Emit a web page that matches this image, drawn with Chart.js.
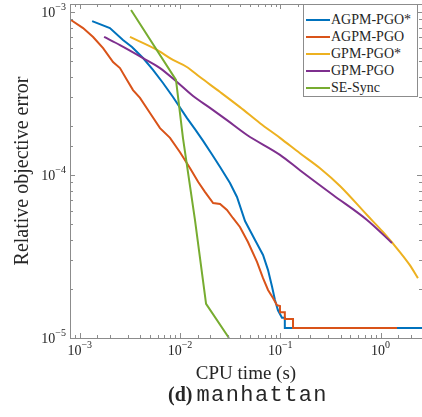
<!DOCTYPE html>
<html>
<head>
<meta charset="utf-8">
<script src="https://cdn.jsdelivr.net/npm/chart.js@4.4.0/dist/chart.umd.min.js"></script>
<style>
  body { margin: 0; background: #fff; }
  #wrap { position: relative; width: 422px; height: 417px; overflow: hidden; }
  #legend {
    position: absolute; left: 303px; top: 4px; width: 115px; height: 93px;
    box-sizing: border-box; border: 1px solid #8c8c8c; background: #fff;
    padding-top: 6px; font: 14px "Liberation Serif", serif; color: #262626;
  }
  #legend .item { display: flex; align-items: center; height: 17px; white-space: nowrap; }
  #legend .swatch { width: 24px; height: 2px; margin: 0 1px 0 2px; flex: none; }
  #caption {
    position: absolute; left: 70px; width: 356px; top: 383px; text-align: center;
    color: #262626; white-space: nowrap;
  }
  #caption b { font: bold 20px "Liberation Serif", serif; }
  #caption span { font: 22px "Liberation Mono", monospace; letter-spacing: 1.4px; }
</style>
</head>
<body>
<div id="wrap">
  <canvas id="c" width="422" height="417"></canvas>
  <div id="legend"></div>
  <div id="caption"><b>(d)</b> <span>manhattan</span></div>
</div>
<script>
// CPU time (s) / relative objective error
const agpmStarTime = [1.33e-3, 2.00e-3, 2.70e-3, 3.32e-3, 4.28e-3, 5.38e-3, 6.77e-3, 8.51e-3, 1.17e-2, 1.41e-2,
  1.70e-2, 2.08e-2, 2.51e-2, 3.15e-2, 3.70e-2, 4.45e-2, 5.60e-2, 6.73e-2, 7.55e-2, 8.28e-2, 8.85e-2, 9.48e-2,
  0.104, 0.111, 0.111, 2.7];
const agpmStarErr = [8.80e-4, 7.97e-4, 6.73e-4, 6.10e-4, 5.22e-4, 4.41e-4, 3.67e-4, 3.01e-4, 2.24e-4, 1.91e-4,
  1.62e-4, 1.34e-4, 1.12e-4, 8.93e-5, 7.33e-5, 5.22e-5, 3.99e-5, 3.23e-5, 2.61e-5, 2.06e-5, 1.71e-5, 1.48e-5,
  1.33e-5, 1.33e-5, 1.15e-5, 1.15e-5];

const agpmTime = [8.18e-4, 1.08e-3, 1.36e-3, 1.71e-3, 2.15e-3, 2.52e-3, 2.96e-3, 3.40e-3, 3.99e-3, 5.02e-3,
  6.32e-3, 7.95e-3, 1.00e-2, 1.26e-2, 1.52e-2, 1.78e-2, 2.14e-2, 2.51e-2, 2.94e-2, 3.37e-2, 3.96e-2, 4.76e-2,
  5.86e-2, 6.73e-2, 7.55e-2, 8.46e-2, 9.27e-2, 9.93e-2, 9.93e-2, 0.111, 0.111, 0.134, 0.134, 1.46];
const agpmErr = [8.93e-4, 7.97e-4, 7.03e-4, 6.01e-4, 4.93e-4, 4.53e-4, 3.83e-4, 3.32e-4, 2.97e-4, 2.40e-4,
  1.94e-4, 1.69e-4, 1.38e-4, 1.10e-4, 9.06e-5, 7.86e-5, 6.73e-5, 6.64e-5, 6.10e-5, 5.45e-5, 4.80e-5, 3.88e-5,
  2.93e-5, 2.33e-5, 1.97e-5, 1.76e-5, 1.59e-5, 1.57e-5, 1.44e-5, 1.44e-5, 1.31e-5, 1.31e-5, 1.15e-5, 1.15e-5];

const gpmStarTime = [3.17e-3, 5.90e-3, 8.51e-3, 1.17e-2, 1.58e-2, 2.51e-2, 3.96e-2, 6.28e-2, 9.93e-2, 0.157,
  0.249, 0.394, 0.733, 1.057, 1.56, 1.96, 2.36];
const gpmStarErr = [7.03e-4, 5.85e-4, 5.08e-4, 4.60e-4, 3.99e-4, 3.23e-4, 2.61e-4, 2.08e-4, 1.69e-4, 1.36e-4,
  1.10e-4, 8.56e-5, 5.68e-5, 4.47e-5, 3.37e-5, 2.80e-5, 2.33e-5];

const gpmTime = [1.75e-3, 2.52e-3, 4.28e-3, 6.32e-3, 9.33e-3, 1.35e-2, 1.99e-2, 2.94e-2, 4.66e-2, 9.93e-2,
  0.157, 0.336, 0.733, 1.30];
const gpmErr = [7.03e-4, 6.27e-4, 5.22e-4, 4.53e-4, 3.72e-4, 3.05e-4, 2.58e-4, 2.17e-4, 1.76e-4, 1.33e-4,
  1.07e-4, 7.54e-5, 5.30e-5, 3.83e-5];

const seSyncTime = [3.25e-3, 9.12e-3, 1.07e-2, 1.41e-2, 1.82e-2, 3.08e-2];
const seSyncErr = [1.03e-3, 3.83e-4, 1.69e-4, 5.30e-5, 1.62e-5, 1.0e-5];

const seriesLabels = ['AGPM-PGO*', 'AGPM-PGO', 'GPM-PGO*', 'GPM-PGO', 'SE-Sync'];
const seriesColors = ['#0072BD', '#D95319', '#EDB120', '#7E2F8E', '#77AC30'];
const seriesTimes = [agpmStarTime, agpmTime, gpmStarTime, gpmTime, seSyncTime];
const seriesErrs = [agpmStarErr, agpmErr, gpmStarErr, gpmErr, seSyncErr];
const seriesSmooth = [false, false, true, true, false]; // stepped tails stay straight

const serif = '"Liberation Serif", serif';
const isPow = (v) => { const e = Math.log10(v); return Math.abs(e - Math.round(e)) < 1e-9; };

// draws "10" with a raised exponent, like MATLAB's LaTeX tick labels
function powText(ctx, v, x, y, align) {
  const exp = String(Math.round(Math.log10(v))).replace('-', '\u2212');
  ctx.font = `14px ${serif}`;
  const wb = ctx.measureText('10').width;
  ctx.font = `10px ${serif}`;
  const we = ctx.measureText(exp).width;
  const x0 = align === 'center' ? x - (wb + we) / 2 : x - wb - we;
  ctx.font = `14px ${serif}`;
  ctx.fillText('10', x0, y);
  ctx.font = `10px ${serif}`;
  ctx.fillText(exp, x0 + wb, y - 7);
}

// MATLAB-style box with inward ticks and power-of-ten labels
const boxTicks = {
  id: 'boxTicks',
  afterDatasetsDraw(chart) {
    const { ctx, chartArea: a, scales: { x, y } } = chart;
    ctx.save();
    ctx.strokeStyle = '#8c8c8c';
    ctx.lineWidth = 1;
    ctx.beginPath();
    x.ticks.forEach((t) => {
      if (t.value <= x.min || t.value >= x.max) return;
      const px = Math.round(x.getPixelForValue(t.value)) + 0.5;
      const len = isPow(t.value) ? 5 : 3;
      ctx.moveTo(px, a.bottom); ctx.lineTo(px, a.bottom - len);
      ctx.moveTo(px, a.top); ctx.lineTo(px, a.top + len);
    });
    y.ticks.forEach((t) => {
      if (t.value <= y.min || t.value >= y.max) return;
      const py = Math.round(y.getPixelForValue(t.value)) + 0.5;
      const len = isPow(t.value) ? 5 : 3;
      ctx.moveTo(a.left, py); ctx.lineTo(a.left + len, py);
      ctx.moveTo(a.right, py); ctx.lineTo(a.right - len, py);
    });
    ctx.stroke();
    ctx.strokeRect(Math.round(a.left) + 0.5, Math.round(a.top) + 0.5,
      Math.round(a.width), Math.round(a.height));

    ctx.fillStyle = '#262626';
    ctx.textBaseline = 'alphabetic';
    ctx.textAlign = 'left';
    x.ticks.forEach((t) => {
      if (isPow(t.value)) powText(ctx, t.value, x.getPixelForValue(t.value), a.bottom + 17, 'center');
    });
    y.ticks.forEach((t) => {
      if (isPow(t.value)) powText(ctx, t.value, a.left - 4, y.getPixelForValue(t.value) + 5, 'right');
    });
    ctx.restore();
  },
};

new Chart(document.getElementById('c'), {
  type: 'line',
  data: {
    datasets: seriesLabels.map((label, i) => ({
      label,
      data: seriesTimes[i].map((t, k) => ({ x: t, y: seriesErrs[i][k] })),
      borderColor: seriesColors[i],
      borderWidth: 2,
      pointRadius: 0,
      tension: 0,
      cubicInterpolationMode: seriesSmooth[i] ? 'monotone' : 'default',
      fill: false,
      order: seriesLabels.length - i,
    })),
  },
  options: {
    responsive: false,
    animation: false,
    layout: { padding: { top: 4, right: 0, bottom: 0, left: 0 } },
    plugins: { legend: { display: false }, tooltip: { enabled: false } },
    scales: {
      x: {
        type: 'logarithmic',
        min: 8.0e-4,
        max: 2.59,
        grid: { display: false },
        border: { display: false },
        ticks: { display: false, autoSkip: false },
        title: {
          display: true, text: 'CPU time (s)', color: '#262626',
          font: { family: serif, size: 19 }, padding: { top: 0, bottom: 32 },
        },
        afterFit: (s) => { s.height = 79; s.paddingLeft = 0; s.paddingRight = 0; },
      },
      y: {
        type: 'logarithmic',
        min: 1e-5,
        max: 1.12e-3,
        grid: { display: false },
        border: { display: false },
        ticks: { display: false, autoSkip: false },
        title: {
          display: true, text: 'Relative objective error', color: '#262626',
          font: { family: serif, size: 20 }, padding: { top: 11, bottom: 0 },
        },
        afterFit: (s) => { s.width = 70; s.paddingTop = 0; s.paddingBottom = 0; },
      },
    },
  },
  plugins: [boxTicks],
});

document.getElementById('legend').innerHTML = seriesLabels.map((l, i) =>
  `<div class="item"><span class="swatch" style="background:${seriesColors[i]}"></span>${l}</div>`).join('');
</script>
</body>
</html>
